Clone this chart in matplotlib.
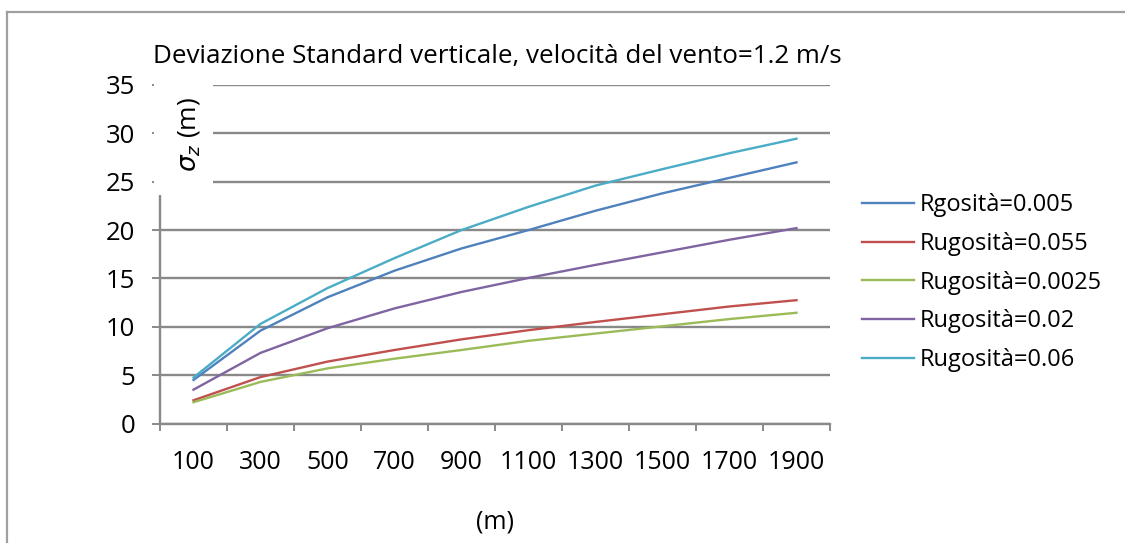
import matplotlib
matplotlib.use("Agg")
import matplotlib.pyplot as plt
from matplotlib.patches import Rectangle
from matplotlib.lines import Line2D
import numpy as np

plt.rcParams['font.family'] = ['Open Sans', 'DejaVu Sans']
plt.rcParams['mathtext.fontset'] = 'dejavusans'

# dati
distanze = ["100", "300", "500", "700", "900", "1100", "1300", "1500", "1700", "1900"]
rug_0005 = [4.5, 9.6, 13.05, 15.8, 18.1, 20.0, 22.0, 23.8, 25.4, 27.0]
rug_0055 = [2.4, 4.8, 6.4, 7.6, 8.7, 9.65, 10.5, 11.3, 12.1, 12.75]
rug_00025 = [2.2, 4.3, 5.7, 6.7, 7.6, 8.55, 9.3, 10.05, 10.8, 11.45]
rug_002 = [3.5, 7.3, 9.85, 11.9, 13.6, 15.05, 16.4, 17.7, 19.0, 20.2]
rug_006 = [4.75, 10.3, 14.0, 17.1, 20.0, 22.4, 24.6, 26.3, 27.95, 29.45]

serie = [
    ("Rgosità=0.005", rug_0005, "#4F81BD"),
    ("Rugosità=0.055", rug_0055, "#C0504D"),
    ("Rugosità=0.0025", rug_00025, "#9BBB59"),
    ("Rugosità=0.02", rug_002, "#8064A2"),
    ("Rugosità=0.06", rug_006, "#4BACC6"),
]

W, H = 1125, 543
fig = plt.figure(figsize=(W / 100, H / 100), dpi=100)
grigio = "#898989"

# cornice esterna
fig.add_artist(Line2D([7 / W, 7 / W], [0, 1 - 12 / H], color="#A0A0A0", lw=1.6))
fig.add_artist(Line2D([7 / W, 1], [1 - 12 / H, 1 - 12 / H], color="#A0A0A0", lw=1.6))

ax = fig.add_axes([160 / W, 1 - 423.5 / H, 670 / W, 338.5 / H])
x = np.arange(len(distanze)) + 0.5
for nome, valori, colore in serie:
    ax.plot(x, valori, color=colore, lw=1.7, label=nome)

ax.set_xlim(0, len(distanze))
ax.set_ylim(0, 35)
ax.set_yticks(np.arange(0, 36, 5))
ax.set_xticks(np.arange(0, len(distanze) + 1))
ax.set_xticklabels([])
ax.set_xticks(x, minor=True)
ax.set_xticklabels(distanze, minor=True)
ax.tick_params(axis="x", which="major", length=5, width=1.4, color=grigio, direction="out")
ax.tick_params(axis="x", which="minor", length=0, pad=19, labelsize=18)
ax.tick_params(axis="y", length=6, width=1.4, color=grigio, pad=12, labelsize=18.5)
ax.yaxis.grid(True, color=grigio, lw=1.7)
ax.set_axisbelow(True)
for lato in ["top", "right"]:
    ax.spines[lato].set_visible(False)
for lato in ["left", "bottom"]:
    ax.spines[lato].set_color(grigio)
    ax.spines[lato].set_linewidth(1.7)

# riquadro del titolo asse y (copre la parte alta dell'asse)
fig.add_artist(Rectangle((154 / W, 1 - 195 / H), 59 / W, 117 / H,
                         transform=fig.transFigure, facecolor="white",
                         edgecolor="none", zorder=5))
fig.text(189 / W, 1 - 135 / H, r"$\sigma_z$ (m)", rotation=90, ha="center",
         va="center", fontsize=19, zorder=6)

fig.text(153 / W, 1 - 57 / H, "Deviazione Standard verticale, velocità del vento=1.2 m/s",
         ha="left", va="center", fontsize=18.7)
fig.text(495 / W, 1 - 522 / H, "(m)", ha="center", va="center", fontsize=18)

fig.legend(loc="upper left", bbox_to_anchor=(841 / W, 1 - 172 / H), frameon=False,
           fontsize=17, handlelength=2.2, handletextpad=0.25, labelspacing=0.62)

fig.savefig("out.png", dpi=100)
